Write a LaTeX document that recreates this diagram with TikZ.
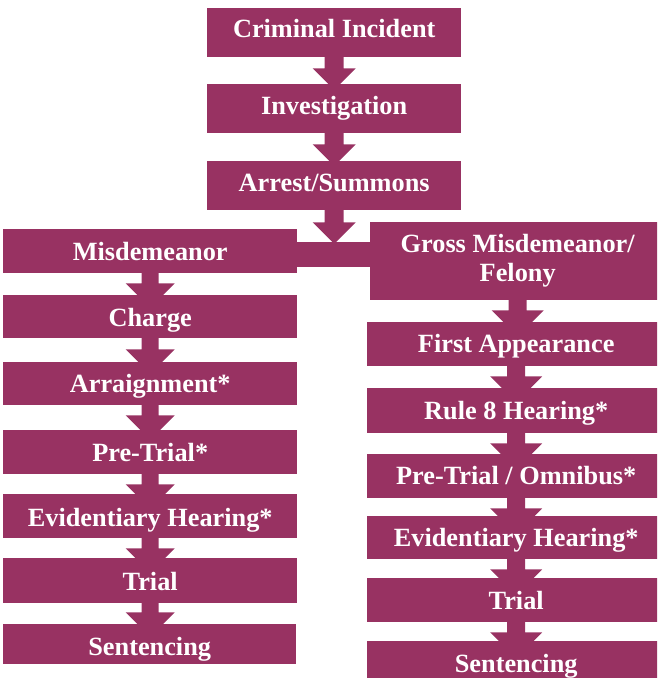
\documentclass[tikz,border=0pt]{standalone}
\usepackage{fontspec}
\setmainfont{Liberation Serif}
\usetikzlibrary{backgrounds}
\definecolor{plum}{RGB}{152,50,98}
\tikzset{
  flowbox/.style={rectangle, fill=plum, text=white, inner sep=0pt, anchor=north west,
    font=\bfseries\fontsize{26.3}{29}\selectfont, align=center},
  % baseline offset below the box centre: give twice the offset
  bl/.style={text height=#1, text depth=0pt},
}
% #1 source node, #2 shaft half width, #3 head half width, #4 gap before head
\newcommand\flowarr[4]{%
  \fill[plum, shift={(#1.south)}] (-#2,-1) -- (-#2,#4) -- (-#3,#4) -- (0,{#4+#3}) -- (#3,#4) -- (#2,#4) -- (#2,-1) -- cycle;}
\begin{document}
\begin{tikzpicture}[x=1pt,y=-1pt]
\useasboundingbox (0,0) rectangle (657,678);
\clip (0,0) rectangle (657,678);
% top column
\node[flowbox, bl=10.4pt, minimum width=254pt, minimum height=49pt] (ci) at (207,8) {Criminal Incident};
\node[flowbox, bl=11.6pt, minimum width=254pt, minimum height=49pt] (inv) at (207,84) {Investigation};
\node[flowbox, bl=12.4pt, minimum width=254pt, minimum height=49pt] (arr) at (207,161) {Arrest/Summons};
% left column
\node[flowbox, bl=18pt, minimum width=294pt, minimum height=44pt] (mis) at (3,229) {Misdemeanor};
\node[flowbox, bl=20.4pt, minimum width=294pt, minimum height=43pt] (chg) at (3,295) {Charge};
\node[flowbox, bl=18.4pt, minimum width=294pt, minimum height=43pt] (arn) at (3,362) {Arraignment*};
\node[flowbox, bl=18pt, minimum width=294pt, minimum height=44pt] (ptl) at (3,430) {Pre-Trial*};
\node[flowbox, bl=20pt, minimum width=294pt, minimum height=44pt] (evl) at (3,494) {Evidentiary Hearing*};
\node[flowbox, bl=19pt, minimum width=294pt, minimum height=45pt] (trl) at (3,558) {Trial};
\node[flowbox, bl=22pt, minimum width=293pt, minimum height=40pt] (sel) at (3,624) {Sentencing};
% right column
\node[flowbox, minimum width=295pt, minimum height=78pt] (gross) at (370,222) {Gross Misdemeanor/\\Felony};
\node[flowbox, bl=17.4pt, minimum width=298pt, minimum height=44pt] (fa) at (367,322) {First Appearance};
\node[flowbox, bl=17.6pt, minimum width=298pt, minimum height=45pt] (r8) at (367,388) {Rule 8 Hearing*};
\node[flowbox, bl=16.6pt, minimum width=298pt, minimum height=44pt] (omn) at (367,454) {Pre-Trial / Omnibus*};
\node[flowbox, bl=17pt, minimum width=298pt, minimum height=43pt] (evr) at (367,516) {Evidentiary Hearing*};
\node[flowbox, bl=18pt, minimum width=298pt, minimum height=44pt] (trr) at (367,578) {Trial};
\node[flowbox, bl=20.4pt, minimum width=298pt, minimum height=43pt] (ser) at (367,641) {Sentencing};
% connectors, drawn behind the boxes
\begin{scope}[on background layer]
\flowarr{ci}{9.5}{21.5}{11}
\flowarr{inv}{9.5}{21.5}{11}
\flowarr{arr}{9.5}{21.5}{12}
\fill[plum] ([xshift=-1pt,yshift=-13pt]mis.north east) rectangle ([xshift=1pt,yshift=-45pt]gross.north west);
\flowarr{mis}{8.5}{24.5}{10}
\flowarr{chg}{8.5}{24.5}{11}
\flowarr{arn}{8.5}{24.5}{10}
\flowarr{ptl}{8.5}{24.5}{10}
\flowarr{evl}{8.5}{24.5}{10}
\flowarr{trl}{8.5}{24.5}{9}
\flowarr{gross}{9}{26}{10}
\flowarr{fa}{9}{26}{10}
\flowarr{r8}{9}{26}{10}
\flowarr{omn}{9}{26}{10}
\flowarr{evr}{9}{26}{10}
\flowarr{trr}{9}{26}{10}
\end{scope}
\end{tikzpicture}
\end{document}
